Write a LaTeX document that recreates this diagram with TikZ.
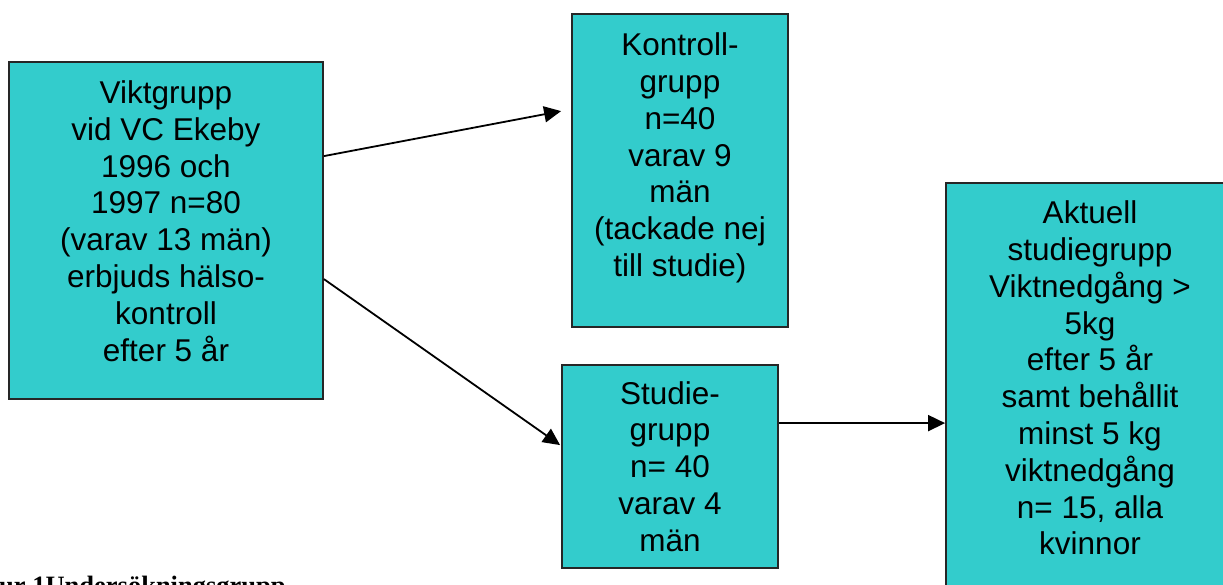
\documentclass[tikz,border=0pt]{standalone}
\usepackage{fontspec}
\setmainfont{Liberation Sans}
\newfontfamily\capfont{Liberation Serif}
\usetikzlibrary{arrows.meta}
\definecolor{boxfill}{HTML}{33CCCC}
\begin{document}
\begin{tikzpicture}[x=1pt,y=-1pt,
  box/.style={draw=black!85,line width=1.8pt,fill=boxfill,rectangle,inner sep=0pt},
  txt/.style={align=center,inner sep=0pt,font=\fontsize{31.5}{36.8}\selectfont},
  conn/.style={line width=1.8pt,-{Triangle[length=17pt,width=16pt]}}]
\path[use as bounding box,clip] (0,0) rectangle (1223,585);
\fill[white] (0,0) rectangle (1223,585);
% boxes
\node[box,minimum width=314pt,minimum height=337pt] (b1) at (166,230.5) {};
\node[box,minimum width=216pt,minimum height=313pt] (kon) at (680,170.5) {};
\node[box,minimum width=216pt,minimum height=203pt] (stu) at (670,466.5) {};
\node[box,minimum width=288pt,minimum height=437pt] (akt) at (1090,401.5) {};
% texts
\node[txt] (t1) at (166,221) {Viktgrupp\\vid VC Ekeby\\1996 och\\1997 n=80\\(varav 13 män)\\erbjuds hälso-\\kontroll\\efter 5 år};
\node[txt] (t2) at (680,158) {Kontroll-\\grupp\\n=40\\varav 9\\män\\(tackade nej\\till studie)};
\node[txt] (t3) at (670,466.5) {Studie-\\grupp\\n= 40\\varav 4\\män};
\node[txt] (t4) at (1090,378) {Aktuell\\studiegrupp\\Viktnedgång >\\5kg\\efter 5 år\\samt behållit\\minst 5 kg\\viktnedgång\\n= 15, alla\\kvinnor};
% connectors
\draw[conn] ([yshift=-95pt]b1.north east) -- ([xshift=-10pt,yshift=-98pt]kon.north west);
\draw[conn] ([yshift=-218pt]b1.north east) -- ([xshift=-1pt,yshift=-81pt]stu.north west);
\draw[conn] ([yshift=-59pt]stu.north east) -- ([yshift=-241pt]akt.north west);
% caption
\node[anchor=base west,inner sep=0pt,font=\capfont\bfseries\fontsize{26.5}{30}\selectfont] (cap) at (-1,594.5) {ur 1Undersökningsgrupp};
\end{tikzpicture}
\end{document}
